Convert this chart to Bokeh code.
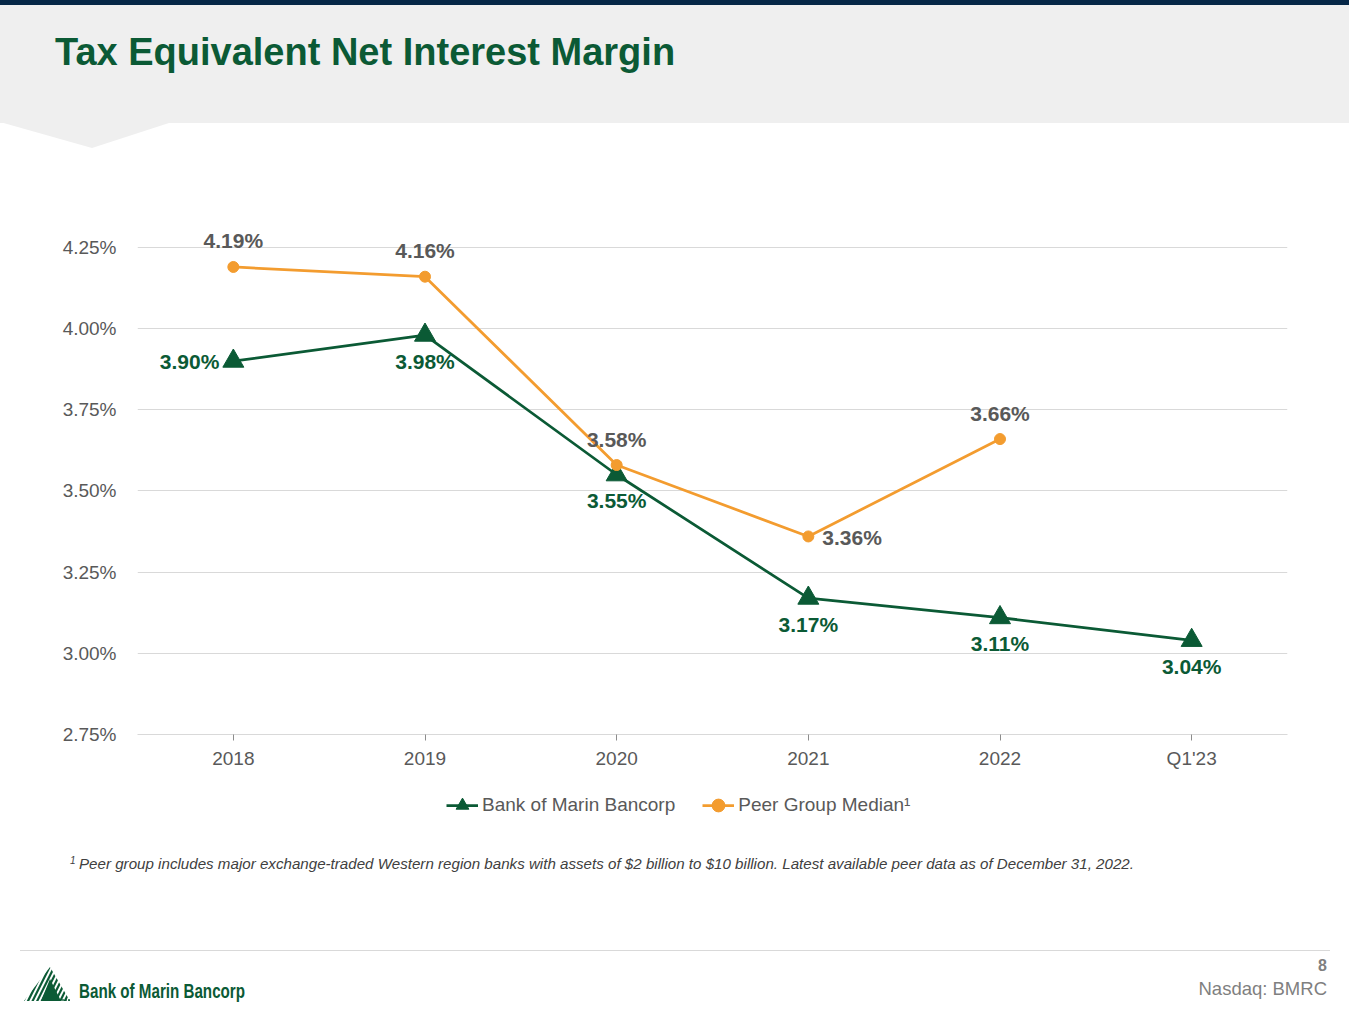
from bokeh.plotting import figure
from bokeh.models import (ColumnDataSource, FixedTicker, PrintfTickFormatter,
                          Legend, LegendItem, Range1d, FactorRange, Div)
from bokeh.layouts import column
from bokeh.core.properties import value
from bokeh.embed import file_html
from bokeh.resources import INLINE

# ---------------- data ----------------
categories = ["2018", "2019", "2020", "2021", "2022", "Q1'23"]
bmrc_values = [3.90, 3.98, 3.55, 3.17, 3.11, 3.04]
peer_categories = ["2018", "2019", "2020", "2021", "2022"]
peer_values = [4.19, 4.16, 3.58, 3.36, 3.66]
y_ticks = [2.75, 3.00, 3.25, 3.50, 3.75, 4.00, 4.25]
series_names = ["Bank of Marin Bancorp", "Peer Group Median\u00b9"]

title_text = "Tax Equivalent Net Interest Margin"
footnote_text = ("Peer group includes major exchange-traded Western region banks with assets "
                 "of $2 billion to $10 billion. Latest available peer data as of December 31, 2022.")

# label placement (style only)
bmrc_place = ["left", "below", "below", "below", "below", "below"]
peer_place = ["above", "above", "above", "right", "above"]

GREEN = "#0b5a35"
ORANGE = "#f39c2f"
GRAY = "#595959"
FONT = "Liberation Sans"

W = 1349
HEADER_H = 150
FIG_H = 630
LEG_H = 50
FOOTER_H = 1008 - HEADER_H - FIG_H - LEG_H  # 178


def offsets(places):
    dx, dy, al = [], [], []
    for pl in places:
        if pl == "above":
            dx.append(0); dy.append(-26); al.append("center")
        elif pl == "below":
            dx.append(0); dy.append(26); al.append("center")
        elif pl == "left":
            dx.append(-14); dy.append(0); al.append("right")
        else:
            dx.append(14); dy.append(1); al.append("left")
    return dx, dy, al


p = figure(width=W, height=FIG_H,
           x_range=FactorRange(*categories),
           y_range=Range1d(2.75, 4.4009),
           output_backend="svg", toolbar_location=None,
           min_border_left=137, min_border_right=62,
           min_border_top=48, min_border_bottom=FIG_H - 48 - 536,
           margin=(0, 0, 0, 0))
p.outline_line_color = None
p.background_fill_color = "white"
p.border_fill_color = "white"

# axes
p.yaxis.ticker = FixedTicker(ticks=y_ticks)
p.yaxis.formatter = PrintfTickFormatter(format="%.2f%%")
p.yaxis.axis_line_color = None
p.yaxis.major_tick_line_color = None
p.yaxis.minor_tick_line_color = None
p.yaxis.major_tick_out = 0
p.yaxis.major_tick_in = 0
p.yaxis.major_label_standoff = 21
p.yaxis.major_label_text_font = FONT
p.yaxis.major_label_text_font_size = "19px"
p.yaxis.major_label_text_color = GRAY

p.xaxis.axis_line_color = "#d9d9d9"
p.xaxis.major_tick_line_color = "#8c8c8c"
p.xaxis.major_tick_out = 6
p.xaxis.major_tick_in = 0
p.xaxis.minor_tick_line_color = None
p.xaxis.major_label_standoff = 7
p.xaxis.major_label_text_font = FONT
p.xaxis.major_label_text_font_size = "19px"
p.xaxis.major_label_text_color = GRAY

p.xgrid.grid_line_color = None
p.ygrid.ticker = FixedTicker(ticks=y_ticks)
p.ygrid.grid_line_color = "#d9d9d9"
p.ygrid.grid_line_width = 1

# series
bdx, bdy, bal = offsets(bmrc_place)
bsrc = ColumnDataSource(dict(x=categories, y=bmrc_values,
                             lab=["%.2f%%" % v for v in bmrc_values],
                             dx=bdx, dy=bdy, al=bal))
pdx, pdy, pal = offsets(peer_place)
psrc = ColumnDataSource(dict(x=peer_categories, y=peer_values,
                             lab=["%.2f%%" % v for v in peer_values],
                             dx=pdx, dy=pdy, al=pal))

p.line("x", "y", source=bsrc, line_color=GREEN, line_width=2.75)
p.scatter("x", "y", source=bsrc, marker="triangle", size=21,
          fill_color=GREEN, line_color=GREEN)
p.line("x", "y", source=psrc, line_color=ORANGE, line_width=2.75)
p.scatter("x", "y", source=psrc, marker="circle", size=11,
          fill_color=ORANGE, line_color=ORANGE)

p.text("x", "y", text="lab", source=bsrc, x_offset="dx", y_offset="dy",
       text_align="al", text_baseline="middle", text_color=GREEN,
       text_font=value(FONT), text_font_style="bold", text_font_size="21px")
p.text("x", "y", text="lab", source=psrc, x_offset="dx", y_offset="dy",
       text_align="al", text_baseline="middle", text_color=GRAY,
       text_font=value(FONT), text_font_style="bold", text_font_size="21px")

# ---------------- legend strip (own small figure, frame aligned with chart) ----------------
lf = figure(width=W, height=LEG_H, x_range=Range1d(0, 1), y_range=Range1d(0, 1),
            output_backend="svg", toolbar_location=None,
            x_axis_location=None, y_axis_location=None,
            min_border=0, margin=(0, 0, 0, 0))
lf.outline_line_color = None
lf.grid.visible = False
nan = float("nan")
lg_line = lf.line("x", "y", source=ColumnDataSource(dict(x=[nan], y=[nan])),
                  line_color=GREEN, line_width=2.75)
lg_pts = lf.scatter("x", "y", source=ColumnDataSource(dict(x=[nan], y=[nan])),
                    marker="triangle", size=21, fill_color=GREEN, line_color=GREEN)
lo_line = lf.line("x", "y", source=ColumnDataSource(dict(x=[nan], y=[nan])),
                  line_color=ORANGE, line_width=2.75)
lo_pts = lf.scatter("x", "y", source=ColumnDataSource(dict(x=[nan], y=[nan])),
                    marker="circle", size=11, fill_color=ORANGE, line_color=ORANGE)
legend = Legend(items=[LegendItem(label=series_names[0], renderers=[lg_line, lg_pts]),
                       LegendItem(label=series_names[1], renderers=[lo_line, lo_pts])],
                location=(309, 9), orientation="horizontal",
                label_text_font=FONT, label_text_font_size="19px", label_text_color=GRAY,
                glyph_width=32, glyph_height=32, label_standoff=4, spacing=27,
                padding=0, margin=0, border_line_color=None, background_fill_alpha=0)
lf.add_layout(legend, "center")

# ---------------- header ----------------
header_html = f"""
<svg xmlns="http://www.w3.org/2000/svg" width="{W}" height="{HEADER_H}" style="display:block">
  <rect x="0" y="0" width="{W}" height="5" fill="#062747"/>
  <rect x="0" y="5" width="{W}" height="118" fill="#efefef"/>
  <polygon points="0,122 172,122 92,148" fill="#efefef"/>
  <text x="55" y="65" font-family="Liberation Sans, Arial, sans-serif" font-weight="bold"
        font-size="38" fill="{GREEN}">{title_text}</text>
</svg>
"""
header = Div(text=header_html, width=W, height=HEADER_H, margin=(0, 0, 0, 0))

# ---------------- footer (local y = page y - 830) ----------------
OY = 830
lines = ""
xb = 4.0
while xb < 80:
    lines += '<line x1="%.1f" y1="%d" x2="%.1f" y2="%d" stroke="%s" stroke-width="2.2"/>' % (
        xb, 1003 - OY, xb + 22, 959 - OY, GREEN)
    xb += 4.6
logo = f"""
  <defs><clipPath id="logoclip"><polygon points="24,{1001 - OY} 50,{967 - OY} 70,{1001 - OY}"/></clipPath></defs>
  <g clip-path="url(#logoclip)">{lines}</g>
  <polygon points="41,{1001 - OY} 50,{979 - OY} 61,{1001 - OY}" fill="{GREEN}"/>
  <circle cx="63" cy="{1000 - OY}" r="0.9" fill="{GREEN}"/>
  <circle cx="66" cy="{1000 - OY}" r="0.9" fill="{GREEN}"/>
  <circle cx="69" cy="{1000 - OY}" r="0.9" fill="{GREEN}"/>
"""

footer_html = f"""
<svg xmlns="http://www.w3.org/2000/svg" width="{W}" height="{FOOTER_H}" style="display:block">
  <text x="70" y="{864 - OY}" font-family="Liberation Sans, Arial, sans-serif" font-style="italic"
        font-size="10" fill="#404040">1</text>
  <text x="79" y="{869 - OY}" font-family="Liberation Sans, Arial, sans-serif" font-style="italic"
        font-size="15" fill="#404040" textLength="1055" lengthAdjust="spacingAndGlyphs">{footnote_text}</text>
  <rect x="20" y="{950 - OY}" width="1310" height="1" fill="#d9d9d9"/>
  <text x="1327" y="{971 - OY}" text-anchor="end" font-family="Liberation Sans, Arial, sans-serif"
        font-weight="bold" font-size="16" fill="#7f7f7f">8</text>
  <text x="1327" y="{995 - OY}" text-anchor="end" font-family="Liberation Sans, Arial, sans-serif"
        font-size="18.5" fill="#7f7f7f">Nasdaq: BMRC</text>
  {logo}
  <text x="79" y="{998 - OY}" font-family="Liberation Sans, Arial, sans-serif"
        font-weight="bold" font-size="20" fill="{GREEN}" textLength="166"
        lengthAdjust="spacingAndGlyphs">Bank of Marin Bancorp</text>
</svg>
"""
footer = Div(text=footer_html, width=W, height=FOOTER_H, margin=(0, 0, 0, 0))

page = column(header, p, lf, footer, spacing=0, margin=(0, 0, 0, 0))

open("out.html", "w").write(file_html(page, INLINE))
